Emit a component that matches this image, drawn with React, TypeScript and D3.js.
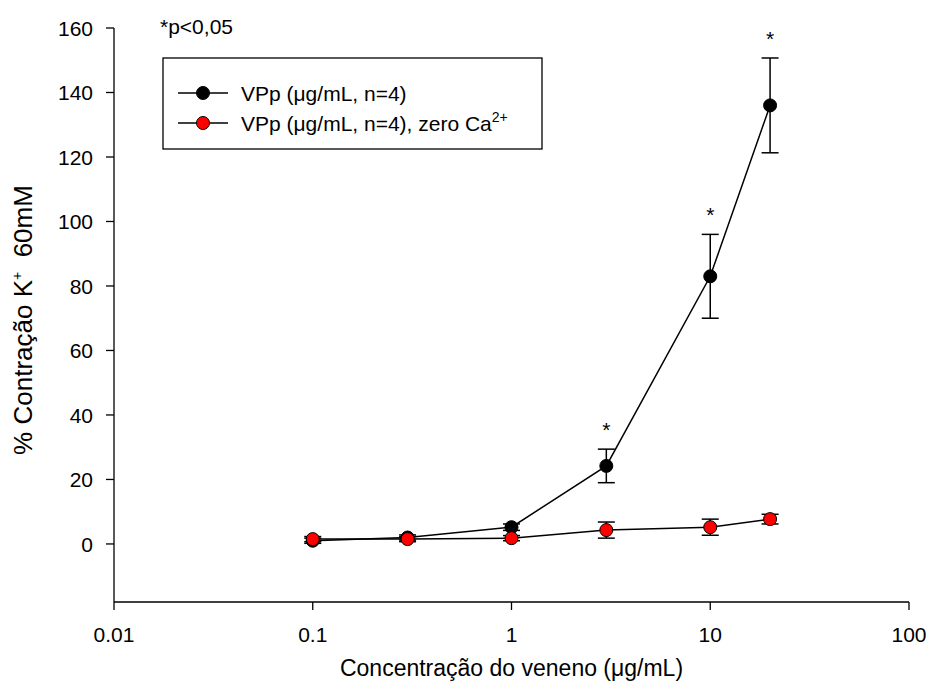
import React from "react";
import * as d3 from "d3";

const concentrations = [0.1, 0.3, 1, 3, 10, 20];
const vppMean = [1.0, 2.0, 5.2, 24.2, 83.0, 136.0];
const vppErr = [0.8, 0.8, 1.0, 5.2, 13.0, 14.7];
const vppCaMean = [1.5, 1.5, 1.8, 4.3, 5.2, 7.7];
const vppCaErr = [0.8, 0.8, 0.8, 2.5, 2.5, 1.5];
const significant = [false, false, false, true, true, true];
const xTicks = [0.01, 0.1, 1, 10, 100];
const xTickLabels = ["0.01", "0.1", "1", "10", "100"];
const yTicks = [0, 20, 40, 60, 80, 100, 120, 140, 160];

const W = 929;
const H = 683;
const left = 114, right = 909, top = 28, bottom = 602;
const font = "Liberation Sans, Arial, sans-serif";

export default function App() {
  const x = d3.scaleLog().domain([0.01, 100]).range([left, right]);
  const y = d3.scaleLinear().domain([-18, 160]).range([bottom, top]);
  const line = d3
    .line<[number, number]>()
    .x((d) => x(d[0]))
    .y((d) => y(d[1]));

  const series = [
    { mean: vppMean, err: vppErr, fill: "#000000" },
    { mean: vppCaMean, err: vppCaErr, fill: "#ff0000" },
  ];

  return (
    <svg width={W} height={H} style={{ position: "absolute", left: 0, top: 0 }} fontFamily={font}>
      <rect width={W} height={H} fill="white" />
      {/* axes */}
      <line x1={left} x2={left} y1={top} y2={bottom} stroke="black" strokeWidth={1.3} />
      <line x1={left} x2={right} y1={bottom} y2={bottom} stroke="black" strokeWidth={1.3} />
      {yTicks.map((t) => (
        <g key={t}>
          <line x1={left - 8} x2={left} y1={y(t)} y2={y(t)} stroke="black" strokeWidth={1.3} />
          <text x={left - 21} y={y(t)} dy="0.36em" textAnchor="end" fontSize={21}>
            {t}
          </text>
        </g>
      ))}
      {xTicks.map((t, i) => (
        <g key={t}>
          <line x1={x(t)} x2={x(t)} y1={bottom} y2={bottom + 8} stroke="black" strokeWidth={1.3} />
          <text x={x(t)} y={642} textAnchor="middle" fontSize={21}>
            {xTickLabels[i]}
          </text>
        </g>
      ))}
      <text x={(left + right) / 2} y={676} textAnchor="middle" fontSize={23}>
        Concentração do veneno (μg/mL)
      </text>
      <text transform={`translate(32, 320) rotate(-90)`} textAnchor="middle" fontSize={26}>
        % Contração K<tspan dy={-10} fontSize={14}>+</tspan>
        <tspan dy={10}>{"\u00a0 60mM"}</tspan>
      </text>
      <text x={160} y={34} fontSize={21}>*p&lt;0,05</text>

      {/* series */}
      {series.map((s, si) => {
        const pts = concentrations.map((c, i) => [c, s.mean[i]] as [number, number]);
        return (
          <g key={si}>
            <path d={line(pts) || ""} fill="none" stroke="black" strokeWidth={1.5} />
            {concentrations.map((c, i) => {
              const cx = x(c);
              const y1 = y(s.mean[i] + s.err[i]);
              const y2 = y(s.mean[i] - s.err[i]);
              return (
                <g key={i} stroke="black" strokeWidth={1.5}>
                  <line x1={cx} x2={cx} y1={y1} y2={y2} />
                  <line x1={cx - 8.5} x2={cx + 8.5} y1={y1} y2={y1} />
                  <line x1={cx - 8.5} x2={cx + 8.5} y1={y2} y2={y2} />
                </g>
              );
            })}
            {concentrations.map((c, i) => (
              <circle key={i} cx={x(c)} cy={y(s.mean[i])} r={6.5} fill={s.fill} stroke="black" strokeWidth={1} />
            ))}
          </g>
        );
      })}
      {concentrations.map((c, i) =>
        significant[i] ? (
          <text key={i} x={x(c)} y={y(vppMean[i] + vppErr[i]) - 12} textAnchor="middle" fontSize={21}>
            *
          </text>
        ) : null
      )}

      {/* legend */}
      <rect x={163} y={58} width={379} height={91} fill="white" stroke="black" strokeWidth={1.3} />
      {[
        { fill: "#000000", y: 93 },
        { fill: "#ff0000", y: 123 },
      ].map((l, i) => (
        <g key={i}>
          <line x1={178} x2={228} y1={l.y} y2={l.y} stroke="black" strokeWidth={1.5} />
          <circle cx={203} cy={l.y} r={6.5} fill={l.fill} stroke="black" strokeWidth={1} />
        </g>
      ))}
      <text x={241} y={101} fontSize={21}>VPp (μg/mL, n=4)</text>
      <text x={241} y={131} fontSize={21}>
        VPp (μg/mL, n=4), zero Ca<tspan dy={-9} fontSize={14}>2+</tspan>
      </text>
    </svg>
  );
}
